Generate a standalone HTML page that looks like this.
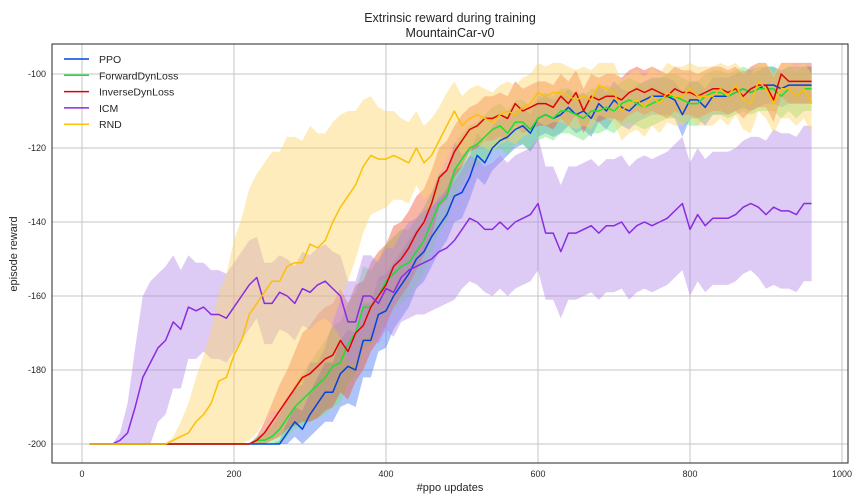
<!DOCTYPE html>
<html><head><meta charset="utf-8"><style>
html,body{margin:0;padding:0;background:#fff;}
svg{display:block;font-family:"Liberation Sans","DejaVu Sans",sans-serif;}
</style></head><body>
<svg id="chart" width="864" height="504" viewBox="0 0 864 504">
<g id="grid"></g>
<g id="bands"></g>
<g id="lines"></g>
<rect x="52" y="44" width="796" height="419" fill="none" stroke="#262626" stroke-width="1"/>
<g id="ticks"></g>
<text x="450" y="22" font-size="12.5" text-anchor="middle" fill="#262626">Extrinsic reward during training</text>
<text x="450" y="37" font-size="12.5" text-anchor="middle" fill="#262626">MountainCar-v0</text>
<text x="450" y="491" font-size="11" text-anchor="middle" fill="#262626">#ppo updates</text>
<text transform="translate(17,254) rotate(-90)" font-size="11" text-anchor="middle" fill="#262626">episode reward</text>
<g id="legend"></g>
</svg>
<script>
const xs = [];
for (let i = 1; i <= 96; i++) xs.push(i * 10);
const seriesNames = ["PPO","ForwardDynLoss","InverseDynLoss","ICM","RND"];
const ppo = [-200,-200,-200,-200,-200,-200,-200,-200,-200,-200,-200,-200,-200,-200,-200,-200,-200,-200,-200,-200,-200,-200,-200,-200,-200,
-200,-197,-194,-196,-192,-189,-186,-186,-181,-179,-180,-172,-172,-165,-164,-160,-157,-154,-150,-148,-144,-141,-138,-133,-132,-128,-122,-124,-120,-118,-117,-115,-114,-116,-112,-111,-112,-111,-109,-111,-110,-112,-108,-110,-107,-109,-110,-108,-107,-106,-106,-106,-107,-111,-107,-107,-109,-106,-106,-106,-105,-104,-105,-104,-103,-103,-104,-103,-103,-103,-103];
const fwd = [-200,-200,-200,-200,-200,-200,-200,-200,-200,-200,-200,-200,-200,-200,-200,-200,-200,-200,-200,-200,-200,-200,
-199,-199,-198,-196,-193,-190,-188,-186,-184,-182,-179,-178,-173,-170,-163,-163,-160,-156,-154,-152,-151,-148,-145,-140,-135,-133,-126,-123,-120,-119,-117,-115,-114,-116,-113,-113,-115,-112,-111,-112,-110,-110,-111,-112,-110,-110,-109,-110,-108,-107,-108,-109,-108,-107,-106,-106,-107,-108,-108,-106,-105,-105,-106,-105,-104,-105,-104,-104,-104,-106,-104,-106,-104,-104];
const inv = [-200,-200,-200,-200,-200,-200,-200,-200,-200,-200,-200,-200,-200,-200,-200,-200,-200,-200,-200,-200,-200,-200,
-199,-197,-194,-191,-188,-185,-182,-181,-179,-177,-176,-172,-175,-170,-168,-163,-160,-157,-152,-150,-147,-143,-140,-135,-128,-126,-121,-118,-115,-114,-112,-112,-111,-112,-108,-110,-109,-108,-108,-109,-106,-108,-105,-110,-106,-107,-106,-106,-107,-105,-104,-105,-104,-105,-106,-104,-105,-105,-106,-105,-104,-104,-105,-104,-106,-104,-103,-103,-107,-100,-102,-102,-102,-102];
const icm = [-200,-200,-200,-200,-199,-197,-190,-182,-178,-174,-172,-167,-169,-163,-164,-163,-165,-165,-166,-163,-160,-157,-155,-162,-162,-159,-160,-162,-158,-159,-157,-156,-158,-160,-167,-167,-160,-160,-162,-158,-159,-155,-153,-152,-151,-150,-148,-147,-145,-142,-139,-140,-142,-142,-140,-142,-140,-139,-138,-135,-143,-143,-148,-143,-143,-142,-141,-143,-141,-141,-140,-143,-141,-140,-141,-140,-139,-137,-135,-142,-138,-141,-139,-139,-139,-138,-136,-135,-136,-138,-136,-137,-137,-138,-135,-135];
const rnd = [-200,-200,-200,-200,-200,-200,-200,-200,-200,-200,-200,
-199,-198,-197,-194,-192,-189,-183,-182,-176,-172,-165,-162,-159,-156,-156,-152,-151,-151,-146,-147,-145,-140,-136,-133,-130,-125,-122,-123,-123,-122,-123,-124,-120,-124,-122,-118,-114,-110,-114,-112,-111,-112,-113,-111,-110,-111,-109,-108,-105,-106,-105,-105,-106,-107,-106,-107,-103,-104,-105,-110,-108,-107,-109,-106,-108,-105,-106,-106,-104,-106,-106,-106,-104,-106,-103,-107,-108,-102,-104,-108,-104,-104,-106,-104,-108];
const ppoStd = [0,0,0,0,0,0,0,0,0,0,0,0,0,0,0,0,0,0,0,0,0,0,0,0,0,
1,3,4,5,6,7,8,8,9,10,10,10,10,10,10,9,9,9,8,8,8,7,7,7,7,6,6,6,6,6,5,5,5,5,5,5,5,5,5,5,5,5,5,5,5,5,5,5,5,5,5,5,5,6,5,5,5,5,5,5,5,5,5,5,5,5,5,5,5,5,5];
const fwdStd = [0,0,0,0,0,0,0,0,0,0,0,0,0,0,0,0,0,0,0,0,0,0,
1,2,3,4,5,6,7,8,9,10,11,11,11,11,11,10,10,10,10,10,9,9,9,8,8,7,7,7,6,6,6,6,6,6,6,6,6,6,6,6,6,6,6,6,6,6,6,6,6,6,6,6,6,6,6,6,6,6,6,6,6,6,6,6,6,6,6,6,6,6,6,6,6,6];
const invStd = [0,0,0,0,0,0,0,0,0,0,0,0,0,0,0,0,0,0,0,0,0,0,
1,3,5,7,8,10,12,13,14,14,14,14,13,13,12,12,12,11,11,10,10,10,9,9,8,8,7,7,6,6,6,6,6,6,6,6,6,6,6,6,6,6,6,6,6,6,6,6,6,6,6,6,6,6,6,6,6,6,6,6,6,6,6,6,6,6,6,6,6,6,6,6,6,6];
const icmStd = [0,0,0,0,2,8,16,22,22,20,20,18,16,14,13,12,12,12,12,12,12,12,11,11,11,10,10,10,10,10,10,10,10,11,11,11,11,11,11,11,12,12,13,13,14,14,15,15,16,16,17,17,17,18,18,18,18,18,18,18,18,18,18,18,18,18,18,18,18,18,18,18,18,18,18,18,18,18,18,18,18,18,18,18,18,18,18,18,19,20,21,21,21,21,21,21];
const rndStd = [0,0,0,0,0,0,0,0,0,0,0,1,4,8,12,16,20,24,28,31,33,34,35,35,35,35,35,34,33,32,31,29,27,25,23,20,18,16,14,13,12,11,11,10,10,10,9,9,8,8,8,8,8,8,8,8,8,8,8,8,8,8,8,8,8,8,8,8,8,8,8,8,8,8,8,8,8,8,8,8,8,8,8,8,8,8,8,8,8,8,8,8,8,8,8,8];
const xTicks = [0,200,400,600,800,1000];
const yTicks = [-200,-180,-160,-140,-120,-100];

const X0=52,X1=848,Y0=44,Y1=463;
function sx(v){return 82 + v*0.76;}
function sy(v){return 74 + (-100 - v)*3.7;}
const NS="http://www.w3.org/2000/svg";
function mk(tag,attrs,parent){const e=document.createElementNS(NS,tag);for(const k in attrs)e.setAttribute(k,attrs[k]);parent.appendChild(e);return e;}
const grid=document.getElementById('grid'),ticks=document.getElementById('ticks');
xTicks.forEach(t=>{
  const l=mk('line',{x1:sx(t),x2:sx(t),y1:Y0,y2:Y1,stroke:'#c4c4c4','stroke-width':1},grid);
  
  
  const tx=mk('text',{x:sx(t),y:477,'font-size':9,'text-anchor':'middle',fill:'#262626'},ticks);
  tx.textContent=t;
  
  
});
yTicks.forEach(t=>{
  const l=mk('line',{x1:X0,x2:X1,y1:sy(t),y2:sy(t),stroke:'#c4c4c4','stroke-width':1},grid);
  
  
  const tx=mk('text',{x:46,y:sy(t)+3,'font-size':9,'text-anchor':'end',fill:'#262626'},ticks);
  tx.textContent=t;
  
  
});
const series=[
 {name:'ppo',vals:ppo,std:ppoStd,color:'#0343df',fill:'#4c7bf5'},
 {name:'forward-dyn-loss',vals:fwd,std:fwdStd,color:'#15e32f',fill:'#6fe57a'},
 {name:'inverse-dyn-loss',vals:inv,std:invStd,color:'#e50000',fill:'#ef5a3a'},
 {name:'icm',vals:icm,std:icmStd,color:'#8a2be2',fill:'#b48ae8'},
 {name:'rnd',vals:rnd,std:rndStd,color:'#fcc006',fill:'#fdd56a'}
];
const bands=document.getElementById('bands'),lines=document.getElementById('lines');
series.forEach(s=>{
  const up=xs.map((x,i)=>sx(x)+','+sy(Math.min(-97,s.vals[i]+s.std[i])));
  const lo=xs.map((x,i)=>sx(x)+','+sy(Math.max(-200,s.vals[i]-s.std[i]))).reverse();
  const b=mk('polygon',{points:up.concat(lo).join(' '),fill:s.fill,'fill-opacity':0.45,stroke:'none'},bands);
  
  
});
series.forEach(s=>{
  const p=mk('polyline',{points:xs.map((x,i)=>sx(x)+','+sy(s.vals[i])).join(' '),fill:'none',stroke:s.color,'stroke-width':1.5,'stroke-linejoin':'round'},lines);
  
  
});
const leg=document.getElementById('legend');
series.forEach((s,i)=>{
  const y=59+i*16.3;
  const l=mk('line',{x1:64,x2:89,y1:y,y2:y,stroke:s.color,'stroke-width':1.5},leg);
  
  
  const t=mk('text',{x:99,y:y+4,'font-size':10.5,fill:'#262626'},leg);
  t.textContent=seriesNames[i];
  
  
});
</script>
</body></html>
